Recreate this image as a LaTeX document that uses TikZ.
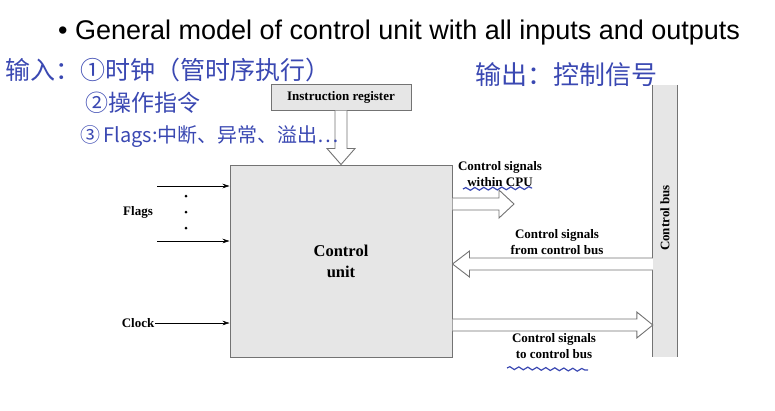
\documentclass[tikz,border=0pt]{standalone}
\usepackage{fontspec}
\setmainfont{Liberation Serif}
\newfontfamily\titlefont{Liberation Sans}
\newfontfamily\cjk{Noto Sans CJK SC}
\usetikzlibrary{arrows.meta,positioning,calc,decorations.pathmorphing}
\definecolor{pen}{RGB}{58,72,178}
\definecolor{boxgray}{RGB}{230,230,230}

\begin{document}
\begin{tikzpicture}[x=1pt,y=-1pt,>={Stealth[length=7pt,width=4.5pt]},
  blk/.style={draw=black!55,fill=boxgray,line width=1pt},
  lbl/.style={font=\bfseries\fontsize{13}{16}\selectfont,align=center,inner sep=1pt},
  hollow/.style={draw=black!55,fill=white,line width=0.9pt},
  hw/.style={text=pen,font=\cjk\fontsize{23}{26}\selectfont,anchor=west,inner sep=0pt},
  wavy/.style={draw=pen,line width=1.2pt,decorate,decoration={snake,amplitude=1.4pt,segment length=9pt}}]
  \useasboundingbox (0,0) rectangle (775,410);
  \node[anchor=west,inner sep=0pt,font=\titlefont\fontsize{27}{30}\selectfont] (title) at (58,33)
    {\textbullet\ General model of control unit with all inputs and outputs};

  % blocks
  \node[blk,minimum width=222pt,minimum height=192pt,align=center,
    font=\bfseries\fontsize{16.5}{21}\selectfont] (cu) at (341,261) {Control\\unit};
  \node[blk,minimum width=140pt,minimum height=26pt,inner sep=0pt,
    font=\bfseries\fontsize{13}{15}\selectfont] (ir) at (341,97) {Instruction register};
  \node[fill=boxgray,minimum width=24pt,minimum height=272pt,inner sep=0pt] (bus) at (665,221) {};
  \draw[black!55,line width=1pt] (bus.north west) -- (bus.south west) (bus.north east) -- (bus.south east);
  \node[lbl,rotate=90] (buslbl) at ($(bus.center)+(0,-3)$) {Control bus};

  % inputs
  \coordinate (f1) at (157,186);
  \coordinate (f2) at (157,241);
  \draw[->] (f1) -- (f1 -| cu.west);
  \draw[->] (f2) -- (f2 -| cu.west);
  \fill (186,196) circle (1.5) (186,212) circle (1.5) (186,228) circle (1.5);
  \node[lbl] (flags) at (138,212) {Flags};
  \node[lbl] (clock) at (138,323) {Clock};
  \draw[->] (clock) -- (clock -| cu.west);

  % wide arrows
  \draw[hollow] ($(ir.south)+(-6,0)$) -- ($(cu.north)+(-6,-16)$) -- ($(cu.north)+(-14,-16)$) -- (cu.north)
    -- ($(cu.north)+(14,-16)$) -- ($(cu.north)+(6,-16)$) -- ($(ir.south)+(6,0)$);
  \coordinate (cpuout) at (514,204);
  \draw[hollow] ($(cpuout -| cu.east)+(0,-6)$) -- ($(cpuout)+(-15,-6)$) -- ($(cpuout)+(-15,-14)$) -- (cpuout)
    -- ($(cpuout)+(-15,14)$) -- ($(cpuout)+(-15,6)$) -- ($(cpuout -| cu.east)+(0,6)$);
  \coordinate (frombus) at ($(bus.west)+(0,43)$);
  \coordinate (cuin) at (frombus -| cu.east);
  \draw[hollow] ($(frombus)+(0,-6)$) -- ($(cuin)+(17,-6)$) -- ($(cuin)+(17,-13)$) -- (cuin)
    -- ($(cuin)+(17,13)$) -- ($(cuin)+(17,6)$) -- ($(frombus)+(0,6)$);
  \coordinate (tobus) at ($(bus.west)+(0,104)$);
  \coordinate (cuout) at (tobus -| cu.east);
  \draw[hollow] ($(cuout)+(0,-6)$) -- ($(tobus)+(-16,-6)$) -- ($(tobus)+(-16,-13)$) -- (tobus)
    -- ($(tobus)+(-16,13)$) -- ($(tobus)+(-16,6)$) -- ($(cuout)+(0,6)$);

  % signal labels
  \node[lbl] (sigcpu) at (500,174) {Control signals\\within CPU};
  \node[lbl] (sigfrom) at (557,242) {Control signals\\from control bus};
  \node[lbl] (sigto) at (554,346) {Control signals\\to control bus};

  % notes in ink
  \node[hw,font=\cjk\fontsize{25}{28}\selectfont] (in1) at (5,70) {输入：①时钟（管时序执行）};
  \node[hw] (in2) at (85,103) {②操作指令};
  \node[hw,font=\cjk\fontsize{20}{24}\selectfont] (in3) at (80,137) {③\,Flags:中断、异常、溢出…};
  \node[hw,font=\cjk\fontsize{26}{29}\selectfont] (out) at (475,75) {输出：控制信号};
  \draw[wavy] (463,189) -- (532,188);
  \draw[wavy] (507,368) -- (588,370);
\end{tikzpicture}
\end{document}
